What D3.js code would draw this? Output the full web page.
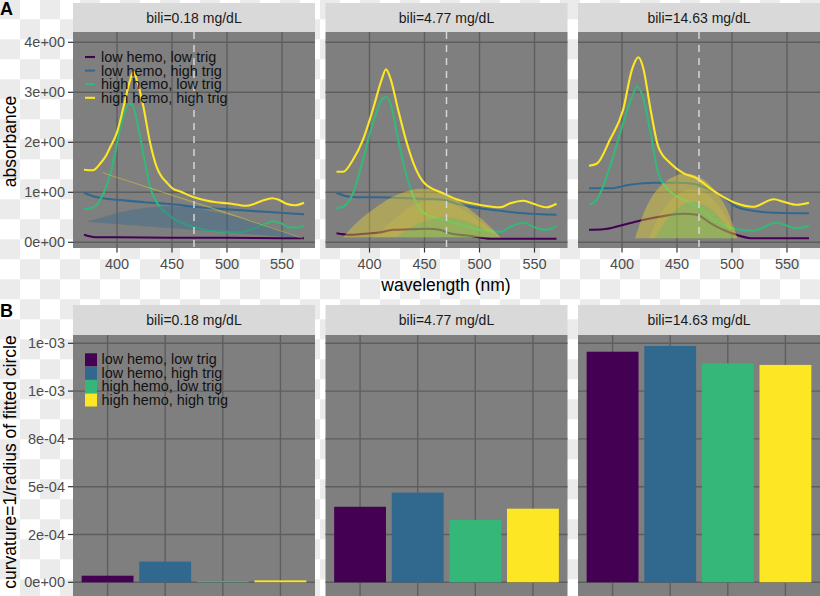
<!DOCTYPE html>
<html><head><meta charset="utf-8">
<script src="https://cdn.jsdelivr.net/npm/d3@7"></script>
<style>
body{margin:0;background:#fff}
svg{display:block;font-family:"Liberation Sans",Arial,Helvetica,sans-serif}
</style>
</head><body>
<svg id="chart" width="820" height="596"></svg>
<script>
// ---------------- DATA ----------------
const facets = ["bili=0.18 mg/dL", "bili=4.77 mg/dL", "bili=14.63 mg/dL"];
const seriesNames = ["low hemo, low trig", "low hemo, high trig", "high hemo, low trig", "high hemo, high trig"];
const seriesColors = ["#440154", "#31688E", "#35B779", "#FDE725"];
const xTickValues = [400, 450, 500, 550];
const yTopTickValues = [0, 1, 2, 3, 4];
const yTopTickLabels = ["0e+00", "1e+00", "2e+00", "3e+00", "4e+00"];
const yBotTickValues = [0, 0.00025, 0.0005, 0.00075, 0.001, 0.00125];
const yBotTickLabels = ["0e+00", "2e-04", "5e-04", "8e-04", "1e-03", "1e-03"];
const refWavelength = 470;

// spectra: [wavelength nm, absorbance]
const p1LowLow = [[370,0.15],[375,0.12],[380,0.1],[400,0.1],[450,0.09],[500,0.09],[550,0.08],[570,0.08]];
const p1LowHigh = [[370,0.99],[380,0.91],[390,0.87],[400,0.85],[425,0.8],[451,0.76],[470,0.71],[499,0.66],[535,0.61],[570,0.56]];
const p1HighLow = [[370,0.66],[378,0.69],[386,0.9],[394,1.38],[398,1.75],[403,2.3],[407,2.6],[411,2.77],[414,2.75],[419,2.33],[425,1.65],[430,1.11],[436,0.8],[439,0.71],[445,0.58],[451,0.48],[460,0.38],[469,0.31],[480,0.25],[499,0.21],[510,0.2],[517,0.22],[527,0.3],[536,0.38],[542,0.42],[549,0.38],[556,0.3],[563,0.29],[570,0.33]];
const p1HighHigh = [[370,1.45],[378,1.44],[385,1.58],[390,1.73],[394,1.91],[400,2.2],[406,2.71],[412,3.25],[415,3.41],[418,3.25],[424,2.71],[430,2.0],[436,1.51],[440,1.33],[445,1.2],[451,1.07],[457,1.02],[470,0.9],[480,0.84],[490,0.8],[500,0.78],[510,0.75],[517,0.73],[525,0.77],[533,0.84],[541,0.88],[547,0.85],[554,0.77],[562,0.74],[570,0.79]];

const p2LowLow = [[370,0.18],[382,0.15],[395,0.17],[407,0.19],[422,0.25],[437,0.26],[452,0.27],[464,0.25],[473,0.18],[491,0.13],[510,0.07],[528,0.07],[570,0.07]];
const p2LowHigh = [[370,0.99],[382,0.91],[395,0.9],[407,0.9],[437,0.88],[467,0.85],[479,0.77],[500,0.68],[519,0.63],[540,0.58],[570,0.55]];
const p2HighLow = [[370,0.68],[376,0.71],[385,0.98],[394,1.65],[403,2.38],[411,2.85],[415,2.91],[420,2.71],[426,2.05],[434,1.31],[440,0.91],[450,0.58],[467,0.45],[479,0.38],[500,0.25],[519,0.21],[528,0.31],[540,0.39],[552,0.28],[561,0.25],[570,0.33]];
const p2HighHigh = [[370,1.41],[376,1.41],[385,1.65],[394,2.05],[403,2.65],[411,3.25],[415,3.46],[419,3.28],[426,2.65],[434,1.98],[440,1.58],[450,1.18],[467,0.98],[479,0.86],[500,0.75],[519,0.7],[528,0.78],[540,0.83],[549,0.77],[561,0.7],[570,0.77]];

const p3LowLow = [[370,0.25],[383,0.26],[398,0.33],[416,0.43],[434,0.51],[456,0.57],[468,0.55],[480,0.39],[492,0.25],[504,0.15],[519,0.08],[570,0.08]];
const p3LowHigh = [[370,1.08],[389,1.08],[407,1.15],[431,1.19],[450,1.19],[465,1.17],[477,1.08],[492,0.91],[504,0.71],[519,0.63],[540,0.59],[570,0.58]];
const p3HighLow = [[370,0.75],[377,0.85],[389,1.51],[401,2.38],[409,2.91],[414,3.11],[419,2.91],[426,2.18],[433,1.38],[444,1.01],[456,0.85],[468,0.71],[480,0.51],[492,0.35],[504,0.26],[519,0.23],[540,0.39],[559,0.28],[570,0.33]];
const p3HighHigh = [[370,1.53],[377,1.57],[389,2.05],[401,2.65],[409,3.45],[415,3.7],[419,3.51],[426,2.65],[433,1.91],[444,1.58],[456,1.38],[468,1.28],[480,1.08],[492,0.91],[504,0.78],[519,0.71],[538,0.86],[547,0.81],[559,0.75],[570,0.79]];

const spectra = [
  [p1LowLow, p1LowHigh, p1HighLow, p1HighHigh],
  [p2LowLow, p2LowHigh, p2HighLow, p2HighHigh],
  [p3LowLow, p3LowHigh, p3HighLow, p3HighHigh]
];

// fitted-circle segments (arc points, closed by chord)
const p1SegBlue = [[372,0.41],[390,0.52],[405,0.61],[420,0.67],[436,0.71],[451,0.72],[460,0.71],[475,0.67],[490,0.6],[505,0.53],[521,0.45],[535,0.35],[548,0.25],[560,0.15],[569,0.08]];
const p1SegYellow = [[387,1.39],[478,0.75],[569,0.08]];
const p2SegYellow = [[376,0.1],[385,0.32],[394,0.5],[410,0.76],[425,0.95],[446,1.07],[467,0.99],[485,0.76],[500,0.5],[512,0.26],[519,0.1]];
const p2SegYellow2 = [[403,0.1],[414,0.3],[425,0.5],[435,0.68],[446,0.8],[460,0.84],[475,0.76],[490,0.58],[505,0.34],[519,0.1]];
const p2SegGreen = [[425,0.1],[438,0.3],[452,0.43],[468,0.5],[484,0.45],[498,0.33],[510,0.2],[519,0.1]];
const p3SegYellow = [[412,0.08],[421,0.65],[430,1.0],[442,1.25],[457,1.38],[472,1.28],[484,1.05],[494,0.72],[500,0.4],[505,0.08]];
const p3SegYellow2 = [[425,0.08],[433,0.5],[442,0.78],[452,0.98],[463,1.06],[476,0.98],[487,0.75],[497,0.42],[505,0.08]];
const p3SegGreen = [[430,0.08],[445,0.58],[463,0.81],[478,0.71],[493,0.38],[503,0.08]];

const segments = [
  {panel:0, series:1, pts:p1SegBlue, alpha:0.38},
  {panel:0, series:3, pts:p1SegYellow, alpha:0.3},
  {panel:1, series:3, pts:p2SegYellow, alpha:0.36},
  {panel:1, series:3, pts:p2SegYellow2, alpha:0.12},
  {panel:1, series:2, pts:p2SegGreen, alpha:0.25},
  {panel:2, series:3, pts:p3SegYellow, alpha:0.36},
  {panel:2, series:3, pts:p3SegYellow2, alpha:0.12},
  {panel:2, series:2, pts:p3SegGreen, alpha:0.25}
];

// curvature bars, one array per facet, in series order
const curv018 = [0.0000345, 0.000108, 0.000007, 0.00001];
const curv477 = [0.000395, 0.000469, 0.000326, 0.000385];
const curv1463 = [0.001206, 0.001236, 0.001145, 0.001137];
const curvature = [curv018, curv477, curv1463];

// ---------------- LAYOUT ----------------
const svg = d3.select("#chart");
const W = 820, H = 596;
const panelX = [73, 325.5, 578];
const panelW = 242;
const topL = {stripY: 3, plotY: 32, plotH: 216};
const botL = {stripY: 305, plotY: 335, plotH: 262};
const panelBg = "#7f7f7f", gridCol = "#5e5e5e", stripBg = "#d9d9d9";
const tickFont = 14.5, legendFont = 14.4;

// checkerboard background
const defs = svg.append("defs");
const pat = defs.append("pattern").attr("id","checker").attr("patternUnits","userSpaceOnUse")
  .attr("width",40).attr("height",40).attr("patternTransform","translate(0,-0.7)");
pat.append("rect").attr("width",40).attr("height",40).attr("fill","#ffffff");
pat.append("rect").attr("x",0).attr("y",0).attr("width",20).attr("height",20).attr("fill","#ebebeb");
pat.append("rect").attr("x",20).attr("y",20).attr("width",20).attr("height",20).attr("fill","#ebebeb");
svg.append("rect").attr("width",W).attr("height",H).attr("fill","url(#checker)");

// scales
const x = d3.scaleLinear().domain([360, 580]).range([0, panelW]);
const yTop = d3.scaleLinear().domain([0, 4]).range([210.3, 10.3]);
const yBot = d3.scaleLinear().domain([0, 0.00125]).range([247.3, 8.3]);
const unit = panelW / 4.2;
const xCat = d3.scalePoint().domain(seriesNames).range([0.6 * unit, 3.6 * unit]);

const lineGen = d3.line().x(d => x(d[0])).y(d => yTop(d[1])).curve(d3.curveMonotoneX);
const segGen = d3.line().x(d => x(d[0])).y(d => yTop(d[1])).curve(d3.curveCatmullRom.alpha(0.5));

// ---------------- TOP ROW (A) ----------------
facets.forEach((f, i) => {
  const g = svg.append("g").attr("transform", `translate(${panelX[i]},0)`);
  g.append("rect").attr("y", topL.stripY).attr("width", panelW).attr("height", topL.plotY - topL.stripY).attr("fill", stripBg);
  g.append("text").attr("x", panelW/2).attr("y", (topL.stripY + topL.plotY)/2 + 5)
    .attr("text-anchor","middle").attr("font-size",14).attr("fill","#1a1a1a").text(f);
  const p = g.append("g").attr("transform", `translate(0,${topL.plotY})`);
  p.append("rect").attr("width", panelW).attr("height", topL.plotH).attr("fill", panelBg);
  const clipId = "clipTop" + i;
  defs.append("clipPath").attr("id", clipId).append("rect").attr("width", panelW).attr("height", topL.plotH);
  p.selectAll(".gh").data(yTopTickValues).join("line")
    .attr("x1",0).attr("x2",panelW).attr("y1",d=>yTop(d)).attr("y2",d=>yTop(d))
    .attr("stroke",gridCol).attr("stroke-width",1.4);
  p.selectAll(".gv").data(xTickValues).join("line")
    .attr("y1",0).attr("y2",topL.plotH).attr("x1",d=>x(d)).attr("x2",d=>x(d))
    .attr("stroke",gridCol).attr("stroke-width",1.4);
  const inner = p.append("g").attr("clip-path", `url(#${clipId})`);
  spectra[i].forEach((s, k) => {
    inner.append("path").attr("d", lineGen(s)).attr("fill","none")
      .attr("stroke", seriesColors[k]).attr("stroke-width", 2.1).attr("stroke-linejoin","round");
  });
  segments.filter(s => s.panel === i).forEach(s => {
    const thin = s.pts.length <= 3;
    inner.append("path").attr("d", segGen(s.pts) + "Z")
      .attr("fill", seriesColors[s.series]).attr("fill-opacity", s.alpha)
      .attr("stroke", thin ? seriesColors[s.series] : "none")
      .attr("stroke-opacity", 0.3).attr("stroke-width", 0.6);
  });
  inner.append("line").attr("x1", x(refWavelength)).attr("x2", x(refWavelength))
    .attr("y1", 0).attr("y2", topL.plotH).attr("stroke", "#d6d6d6").attr("stroke-width", 1.5)
    .attr("stroke-dasharray", "7,6");
  const xa = p.append("g").attr("transform", `translate(0,${topL.plotH})`);
  xa.selectAll("line").data(xTickValues).join("line")
    .attr("x1",d=>x(d)).attr("x2",d=>x(d)).attr("y1",0).attr("y2",4.5).attr("stroke","#333").attr("stroke-width",1.2);
  xa.selectAll("text").data(xTickValues).join("text")
    .attr("x",d=>x(d)).attr("y",21).attr("text-anchor","middle").attr("font-size",tickFont).attr("fill","#4d4d4d").text(d=>d);
  if (i === 0) {
    const ya = p.append("g");
    ya.selectAll("line").data(yTopTickValues).join("line")
      .attr("x1",-5).attr("x2",0).attr("y1",d=>yTop(d)).attr("y2",d=>yTop(d)).attr("stroke","#333").attr("stroke-width",1.2);
    ya.selectAll("text").data(yTopTickValues).join("text")
      .attr("x",-8).attr("y",d=>yTop(d)+5).attr("text-anchor","end").attr("font-size",tickFont).attr("fill","#4d4d4d")
      .text((d,j)=>yTopTickLabels[j]);
    const lg = p.append("g");
    seriesNames.forEach((n, k) => {
      const cy = 25 + k*13.6;
      lg.append("line").attr("x1",12).attr("x2",22).attr("y1",cy).attr("y2",cy)
        .attr("stroke",seriesColors[k]).attr("stroke-width",2.1);
      lg.append("text").attr("x",28).attr("y",cy+5).attr("font-size",legendFont).attr("fill","#111").text(n);
    });
  }
});

svg.append("text").attr("transform","translate(16,141.5) rotate(-90)").attr("text-anchor","middle")
  .attr("font-size",17.5).attr("fill","#000").text("absorbance");
svg.append("text").attr("x",446).attr("y",291).attr("text-anchor","middle")
  .attr("font-size",17.5).attr("fill","#000").text("wavelength (nm)");

// ---------------- BOTTOM ROW (B) ----------------
facets.forEach((f, i) => {
  const g = svg.append("g").attr("transform", `translate(${panelX[i]},0)`);
  g.append("rect").attr("y", botL.stripY).attr("width", panelW).attr("height", botL.plotY - botL.stripY).attr("fill", stripBg);
  g.append("text").attr("x", panelW/2).attr("y", (botL.stripY + botL.plotY)/2 + 5)
    .attr("text-anchor","middle").attr("font-size",14).attr("fill","#1a1a1a").text(f);
  const p = g.append("g").attr("transform", `translate(0,${botL.plotY})`);
  p.append("rect").attr("width", panelW).attr("height", botL.plotH).attr("fill", panelBg);
  p.selectAll(".gh").data(yBotTickValues).join("line")
    .attr("x1",0).attr("x2",panelW).attr("y1",d=>yBot(d)).attr("y2",d=>yBot(d))
    .attr("stroke",gridCol).attr("stroke-width",1.4);
  p.selectAll(".gv").data(seriesNames).join("line")
    .attr("y1",0).attr("y2",botL.plotH).attr("x1",d=>xCat(d)).attr("x2",d=>xCat(d))
    .attr("stroke",gridCol).attr("stroke-width",1.4);
  p.selectAll(".bar").data(curvature[i]).join("rect")
    .attr("x",(d,k)=>xCat(seriesNames[k]) - 0.45*unit)
    .attr("width",0.9*unit)
    .attr("y",d=>yBot(d))
    .attr("height",d=>Math.max(yBot(0)-yBot(d), 1.2))
    .attr("fill",(d,k)=>seriesColors[k]);
  if (i === 0) {
    const ya = p.append("g");
    ya.selectAll("line").data(yBotTickValues).join("line")
      .attr("x1",-5).attr("x2",0).attr("y1",d=>yBot(d)).attr("y2",d=>yBot(d)).attr("stroke","#333").attr("stroke-width",1.2);
    ya.selectAll("text").data(yBotTickValues).join("text")
      .attr("x",-8).attr("y",d=>yBot(d)+5).attr("text-anchor","end").attr("font-size",tickFont).attr("fill","#4d4d4d")
      .text((d,j)=>yBotTickLabels[j]);
    const lg = p.append("g");
    seriesNames.forEach((n, k) => {
      const ty = 18.3 + k*13.4;
      lg.append("rect").attr("x",12).attr("y",ty).attr("width",12).attr("height",13)
        .attr("fill",seriesColors[k]);
      lg.append("text").attr("x",28.5).attr("y",ty+11).attr("font-size",legendFont).attr("fill","#111").text(n);
    });
  }
});
svg.append("text").attr("transform","translate(16,462) rotate(-90)").attr("text-anchor","middle")
  .attr("font-size",17.5).attr("fill","#000").text("curvature=1/radius of fitted circle");

svg.append("text").attr("x",0).attr("y",15).attr("font-size",18).attr("font-weight","bold").attr("fill","#000").text("A");
svg.append("text").attr("x",0).attr("y",317).attr("font-size",18).attr("font-weight","bold").attr("fill","#000").text("B");
</script>
</body></html>
